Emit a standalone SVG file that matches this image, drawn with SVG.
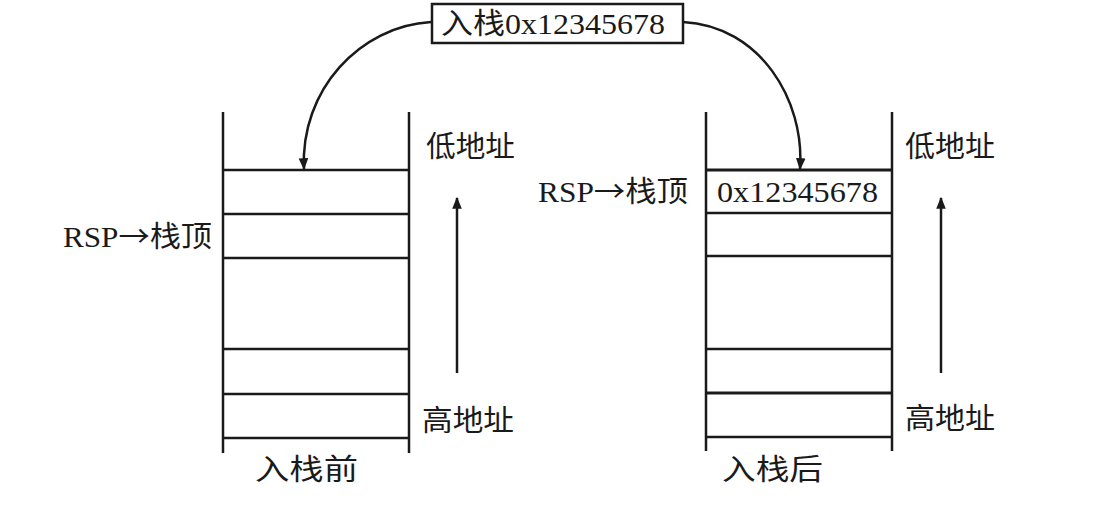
<svg xmlns="http://www.w3.org/2000/svg" width="1118" height="512" viewBox="0 0 1118 512">
<style>
.ln{stroke:#1a1a1a;stroke-width:2.5;fill:none}
.t{font-family:"Liberation Serif","Noto Sans CJK SC",serif;font-size:29px;fill:#1a1a1a}
.ar{font-family:"Noto Sans CJK SC",sans-serif}
</style>
<defs>
<marker id="ah2" viewBox="0 0 10 10" refX="9" refY="5" markerWidth="12" markerHeight="12" orient="auto" markerUnits="userSpaceOnUse">
<path d="M0,1 L10,5 L0,9 z" fill="#1a1a1a"/>
</marker>
</defs>
<rect width="1118" height="512" fill="#fff"/>
<g id="push-label">
<rect x="432" y="4" width="251" height="39" fill="#fff" class="ln"/>
<text x="441" y="34" class="t" textLength="224" lengthAdjust="spacingAndGlyphs">入栈0x12345678</text>
</g>
<g id="stack-before">
<line x1="223" y1="112" x2="223" y2="453" class="ln"/>
<line x1="409" y1="112" x2="409" y2="453" class="ln"/>
<line x1="223" y1="170" x2="409" y2="170" class="ln"/>
<line x1="223" y1="214" x2="409" y2="214" class="ln"/>
<line x1="223" y1="258" x2="409" y2="258" class="ln"/>
<line x1="223" y1="349" x2="409" y2="349" class="ln"/>
<line x1="223" y1="394" x2="409" y2="394" class="ln"/>
<line x1="223" y1="438" x2="409" y2="438" class="ln"/>
<text x="63" y="247" class="t" textLength="149" lengthAdjust="spacingAndGlyphs">RSP<tspan class="ar">→</tspan>栈顶</text>
<text x="426" y="157" class="t" textLength="89" lengthAdjust="spacingAndGlyphs">低地址</text>
<text x="422" y="431" class="t" textLength="92" lengthAdjust="spacingAndGlyphs">高地址</text>
<text x="255" y="480" class="t" textLength="103" lengthAdjust="spacingAndGlyphs">入栈前</text>
</g>
<g id="stack-after">
<line x1="706" y1="112" x2="706" y2="451" class="ln"/>
<line x1="892" y1="112" x2="892" y2="451" class="ln"/>
<line x1="706" y1="170" x2="892" y2="170" class="ln" style="stroke-width:3"/>
<line x1="706" y1="213" x2="892" y2="213" class="ln"/>
<line x1="706" y1="256" x2="892" y2="256" class="ln"/>
<line x1="706" y1="349" x2="892" y2="349" class="ln"/>
<line x1="706" y1="393" x2="892" y2="393" class="ln" style="stroke-width:3"/>
<line x1="706" y1="437" x2="892" y2="437" class="ln"/>
<text x="717" y="202" class="t" textLength="161" lengthAdjust="spacingAndGlyphs">0x12345678</text>
<text x="538" y="202" class="t" textLength="150" lengthAdjust="spacingAndGlyphs">RSP<tspan class="ar">→</tspan>栈顶</text>
<text x="905" y="157" class="t" textLength="90" lengthAdjust="spacingAndGlyphs">低地址</text>
<text x="905" y="429" class="t" textLength="90" lengthAdjust="spacingAndGlyphs">高地址</text>
<text x="722" y="480" class="t" textLength="101" lengthAdjust="spacingAndGlyphs">入栈后</text>
</g>
<g id="connectors">
<path d="M431,22 C360,26 300,90 304,169" class="ln" marker-end="url(#ah2)"/>
<path d="M683,22 C760,26 805,100 800,169" class="ln" marker-end="url(#ah2)"/>
<line x1="457" y1="373" x2="457" y2="198" class="ln" marker-end="url(#ah2)"/>
<line x1="941" y1="373" x2="941" y2="198" class="ln" marker-end="url(#ah2)"/>
</g>
</svg>
